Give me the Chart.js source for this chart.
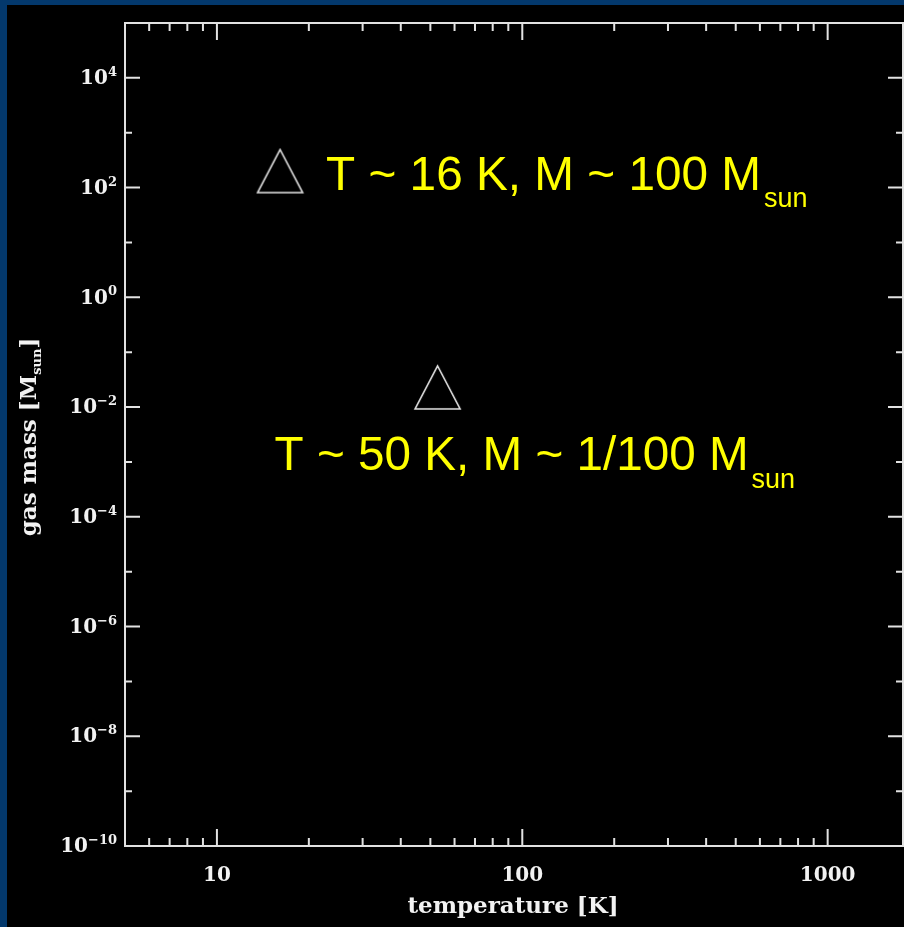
<!DOCTYPE html>
<html>
<head>
<meta charset="utf-8">
<title>gas mass vs temperature</title>
<script src="https://cdn.jsdelivr.net/npm/chart.js@4.4.1/dist/chart.umd.min.js"></script>
<style>
  html, body { margin: 0; padding: 0; background: #000; }
  #wrap { width: 904px; height: 927px; position: relative; }
</style>
</head>
<body>
<div id="wrap"><canvas id="chart"></canvas></div>
<script>
// values
const temperatures = [16.1, 52.8];      // K
const gasMasses = [200, 0.0228];        // M_sun
const pointNotes = ['T ~ 16 K, M ~ 100 M', 'T ~ 50 K, M ~ 1/100 M'];

const xMajorTicks = [10, 100, 1000];
const xTickLabels = ['10', '100', '1000'];
const xMinorTicks = [6, 7, 8, 9, 20, 30, 40, 50, 60, 70, 80, 90, 200, 300, 400, 500, 600, 700, 800, 900];
const yMajorTicks = [1e4, 1e2, 1, 1e-2, 1e-4, 1e-6, 1e-8, 1e-10];
const yTickExponents = ['4', '2', '0', '\u22122', '\u22124', '\u22126', '\u22128', '\u221210'];
const yMinorTicks = [1e3, 1e1, 1e-1, 1e-3, 1e-5, 1e-7, 1e-9];

const X_MIN = 5, X_MAX = 1765;
const Y_MIN = 1e-10, Y_MAX = 1e5;

const FG = '#e2e2e2';
const LABEL_FONT = 'bold 20px "DejaVu Serif"';
const TITLE_FONT = 'bold 23px "DejaVu Serif"';
const SUP_FONT = 'bold 13px "DejaVu Serif"';

// where the yellow notes sit relative to their triangle, and how wide they are
const noteLayout = [
    { dx: 46, dy: 19, width: 435, subDy: 17 },
    { dx: -163, dy: 83, width: 474, subDy: 18 }
];

function triangleMark(w, h) {
    const c = document.createElement('canvas');
    c.width = w + 4;
    c.height = h + 4;
    const g = c.getContext('2d');
    g.strokeStyle = '#e8e8e8';
    g.lineWidth = 1.6;
    g.beginPath();
    g.moveTo(c.width / 2, 2);
    g.lineTo(c.width - 2, c.height - 2);
    g.lineTo(2, c.height - 2);
    g.closePath();
    g.stroke();
    return c;
}

const framePlugin = {
    id: 'frame',
    beforeDraw(chart) {
        const ctx = chart.ctx;
        ctx.save();
        ctx.fillStyle = '#03386c';
        ctx.fillRect(0, 0, chart.width, chart.height);
        ctx.fillStyle = '#000';
        ctx.fillRect(7, 5, chart.width - 7, chart.height - 5);
        ctx.restore();
    },
    beforeDatasetsDraw(chart) {
        const { ctx, chartArea: a, scales: { x, y } } = chart;
        ctx.save();
        ctx.strokeStyle = FG;
        ctx.lineWidth = 2;
        ctx.strokeRect(a.left, a.top, a.right - a.left, a.bottom - a.top);

        ctx.beginPath();
        const xTick = (v, len) => {
            const px = x.getPixelForValue(v);
            ctx.moveTo(px, a.bottom); ctx.lineTo(px, a.bottom - len);
            ctx.moveTo(px, a.top); ctx.lineTo(px, a.top + len);
        };
        const yTick = (v, len) => {
            const py = y.getPixelForValue(v);
            ctx.moveTo(a.left, py); ctx.lineTo(a.left + len, py);
            ctx.moveTo(a.right, py); ctx.lineTo(a.right - len, py);
        };
        xMajorTicks.forEach(v => xTick(v, 17));
        xMinorTicks.forEach(v => xTick(v, 8));
        yMajorTicks.forEach(v => yTick(v, 15));
        yMinorTicks.forEach(v => yTick(v, 7));
        ctx.stroke();

        // tick labels
        ctx.fillStyle = '#f2f2f2';
        ctx.font = LABEL_FONT;
        ctx.textAlign = 'center';
        ctx.textBaseline = 'middle';
        xMajorTicks.forEach((v, i) => {
            ctx.fillText(xTickLabels[i], x.getPixelForValue(v), a.bottom + 30);
        });

        yMajorTicks.forEach((v, i) => {
            const py = y.getPixelForValue(v);
            const right = a.left - 8;
            ctx.font = SUP_FONT;
            ctx.textAlign = 'right';
            ctx.textBaseline = 'alphabetic';
            const supW = ctx.measureText(yTickExponents[i]).width;
            ctx.fillText(yTickExponents[i], right, py - 2);
            ctx.font = LABEL_FONT;
            ctx.textBaseline = 'middle';
            ctx.fillText('10', right - supW, py + 1);
        });

        // axis titles
        ctx.font = TITLE_FONT;
        ctx.textAlign = 'center';
        ctx.textBaseline = 'alphabetic';
        ctx.fillText('temperature [K]', (a.left + a.right) / 2 - 1, a.bottom + 67);

        ctx.translate(36, 437);
        ctx.rotate(-Math.PI / 2);
        const p1 = 'gas mass [M', p3 = ']';
        ctx.font = TITLE_FONT;
        const w1 = ctx.measureText(p1).width, w3 = ctx.measureText(p3).width;
        ctx.font = SUP_FONT;
        const w2 = ctx.measureText('sun').width;
        const start = -(w1 + w2 + w3) / 2;
        ctx.textAlign = 'left';
        ctx.font = TITLE_FONT;
        ctx.fillText(p1, start, 0);
        ctx.font = SUP_FONT;
        ctx.fillText('sun', start + w1, 5);
        ctx.font = TITLE_FONT;
        ctx.fillText(p3, start + w1 + w2, 0);
        ctx.restore();
    },
    afterDatasetsDraw(chart) {
        const ctx = chart.ctx;
        const meta = chart.getDatasetMeta(0);
        ctx.save();
        ctx.fillStyle = '#ffff00';
        ctx.textAlign = 'left';
        ctx.textBaseline = 'alphabetic';
        meta.data.forEach((pt, i) => {
            const lay = noteLayout[i];
            const left = pt.x + lay.dx, base = pt.y + lay.dy;
            ctx.font = '48px "Liberation Sans"';
            const mw = ctx.measureText(pointNotes[i]).width;
            ctx.save();
            ctx.translate(left, base);
            ctx.scale(lay.width / mw, 1);
            ctx.fillText(pointNotes[i], 0, 0);
            ctx.restore();
            ctx.font = '27px "Liberation Sans"';
            ctx.fillText('sun', left + lay.width + 3, base + lay.subDy);
        });
        ctx.restore();
    }
};

const mark = triangleMark(45, 43);

new Chart(document.getElementById('chart'), {
    type: 'scatter',
    data: {
        datasets: [{
            data: temperatures.map((t, i) => ({ x: t, y: gasMasses[i] })),
            pointStyle: mark,
            pointRadius: 3
        }]
    },
    options: {
        responsive: true,
        maintainAspectRatio: false,
        animation: false,
        layout: { autoPadding: false, padding: { left: 125, top: 23, right: 1, bottom: 81 } },
        plugins: { legend: { display: false }, tooltip: { enabled: false } },
        scales: {
            x: { type: 'logarithmic', min: X_MIN, max: X_MAX, display: false },
            y: { type: 'logarithmic', min: Y_MIN, max: Y_MAX, display: false }
        }
    },
    plugins: [framePlugin]
});
</script>
</body>
</html>
